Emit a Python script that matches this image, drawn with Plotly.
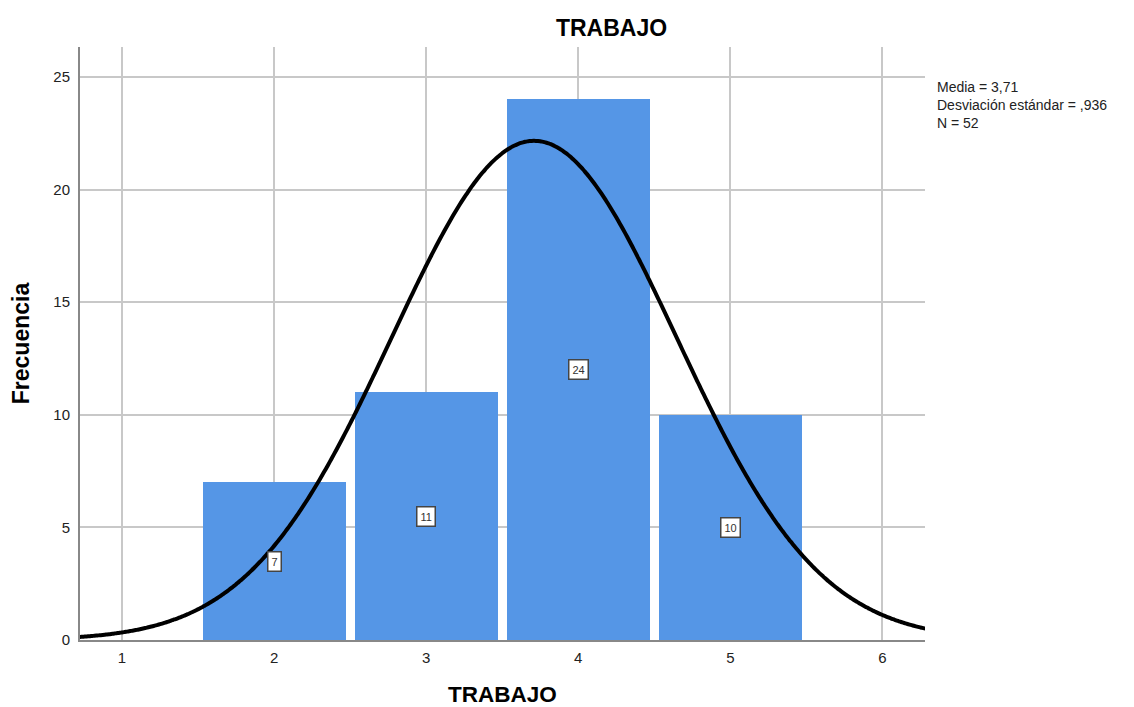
import numpy as np
import plotly.graph_objects as go

# frequency table
valores = [2, 3, 4, 5]
frecuencias = [7, 11, 24, 10]

media = 3.71
desv = 0.936
n_total = 52

# fitted normal curve (what SPSS overlays), scaled to counts for bin width 1
x_curva = np.linspace(0.72, 6.29, 400)
y_curva = n_total / (desv * np.sqrt(2 * np.pi)) * np.exp(-0.5 * ((x_curva - media) / desv) ** 2)

fig = go.Figure()
fig.add_trace(go.Bar(
    x=valores, y=frecuencias, width=0.94,
    marker=dict(color="#5596E6", line=dict(width=0)),
    showlegend=False, hoverinfo="x+y",
))
fig.add_trace(go.Scatter(
    x=x_curva, y=y_curva, mode="lines",
    line=dict(color="black", width=4, shape="spline", simplify=False),
    showlegend=False, hoverinfo="skip",
))

# count labels in the middle of each bar
for v, f in zip(valores, frecuencias):
    fig.add_annotation(
        x=v, y=f / 2, text=str(f), showarrow=False,
        font=dict(family="Liberation Sans, Arial", size=11, color="#333333"),
        bgcolor="white", bordercolor="#444444", borderwidth=1.5, borderpad=3,
    )

fig.add_annotation(
    xref="paper", yref="paper", x=1.012, y=0.950, xanchor="left", yanchor="top",
    align="left", showarrow=False,
    text="Media = 3,71<br>Desviación estándar = ,936<br>N = 52",
    font=dict(family="Liberation Sans, Arial", size=14, color="#222222"),
)

# page body has an 8px margin, so the figure is sized/offset for it
fig.update_layout(
    width=1126, height=699,
    margin=dict(l=72, r=209, t=39, b=67, autoexpand=False),
    paper_bgcolor="white", plot_bgcolor="white",
    bargap=0,
    title=dict(text="<b>TRABAJO</b>", x=0.536, xanchor="center", y=0.971, yanchor="middle",
               font=dict(family="Liberation Sans, Arial", size=23, color="black")),
    font=dict(family="Liberation Sans, Arial", size=13, color="#333333"),
)
fig.update_xaxes(
    range=[0.724, 6.28], tickvals=[1, 2, 3, 4, 5, 6],
    tickfont=dict(size=15, color="#222222"),
    showgrid=True, gridcolor="#c8c8c8", gridwidth=1.5,
    showline=True, linecolor="#888888", linewidth=2,
    ticks="outside", ticklen=3, tickcolor="white", zeroline=False, automargin=False,
    title=dict(text="<b>TRABAJO</b>", font=dict(size=22.5, color="black"), standoff=22),
)
fig.update_yaxes(
    range=[0, 26.33], tickvals=[0, 5, 10, 15, 20, 25],
    tickfont=dict(size=15, color="#222222"),
    showgrid=True, gridcolor="#c8c8c8", gridwidth=1.5,
    showline=True, linecolor="#888888", linewidth=2,
    ticks="outside", ticklen=5, tickcolor="white", zeroline=False, automargin=False,
    title=dict(text="<b>Frecuencia</b>", font=dict(size=23, color="black"), standoff=26),
)

fig.write_html("out.html")
